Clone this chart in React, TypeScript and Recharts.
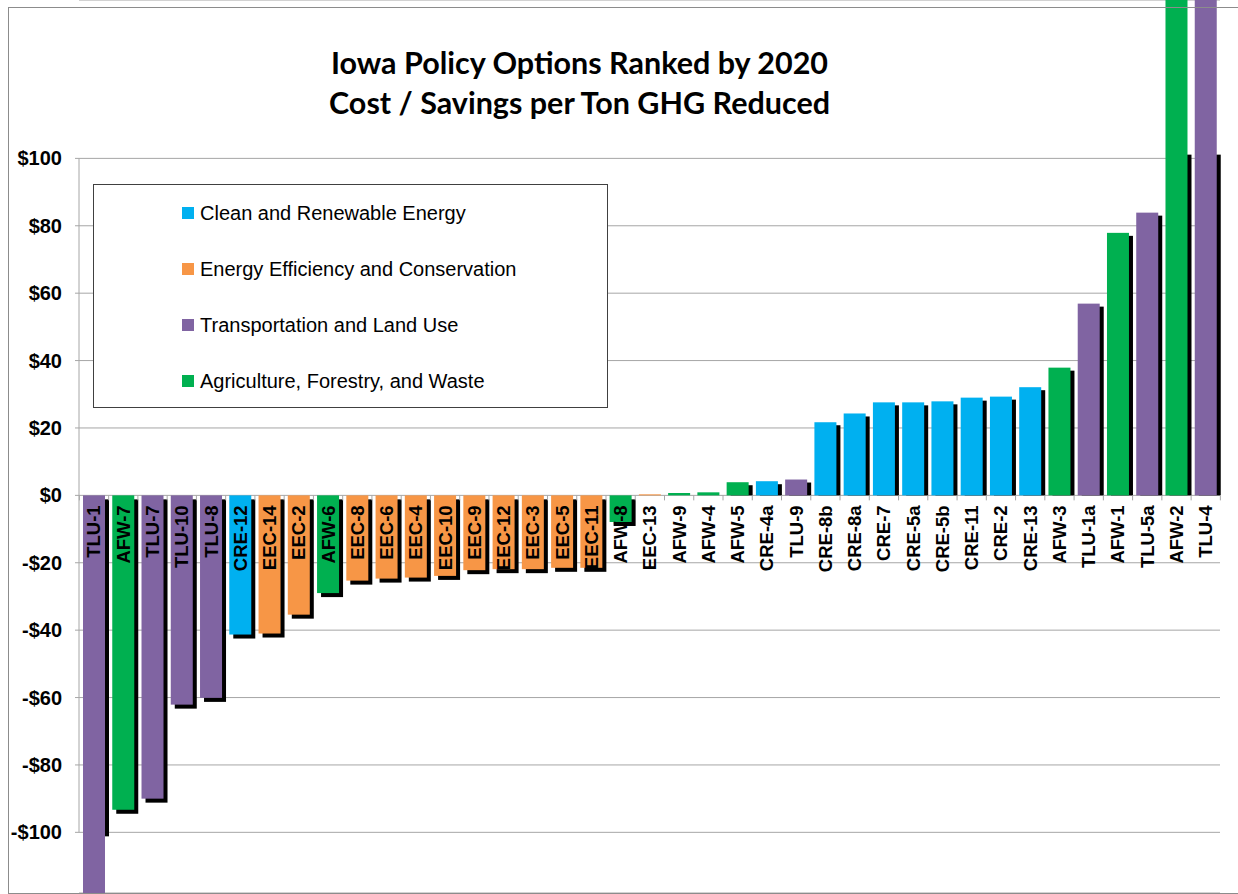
import React from 'react';
import { BarChart, Bar, XAxis, YAxis, CartesianGrid, Cell, LabelList, ReferenceLine, Legend } from 'recharts';

const policyLabels = [
  'TLU-1', 'AFW-7', 'TLU-7', 'TLU-10', 'TLU-8', 'CRE-12', 'EEC-14', 'EEC-2', 'AFW-6', 'EEC-8',
  'EEC-6', 'EEC-4', 'EEC-10', 'EEC-9', 'EEC-12', 'EEC-3', 'EEC-5', 'EEC-11', 'AFW-8', 'EEC-13',
  'AFW-9', 'AFW-4', 'AFW-5', 'CRE-4a', 'TLU-9', 'CRE-8b', 'CRE-8a', 'CRE-7', 'CRE-5a', 'CRE-5b',
  'CRE-11', 'CRE-2', 'CRE-13', 'AFW-3', 'TLU-1a', 'AFW-1', 'TLU-5a', 'AFW-2', 'TLU-4',
];
const costPerTon = [
  -125, -93.3, -90.0, -62.1, -60.1, -41.3, -41.0, -35.4, -29.0, -25.3,
  -24.7, -24.4, -23.9, -22.2, -21.9, -21.9, -21.5, -21.5, -7.9, 0.3,
  0.7, 0.9, 3.9, 4.2, 4.7, 21.7, 24.3, 27.6, 27.6, 27.9,
  29.0, 29.3, 32.1, 37.9, 56.9, 77.9, 83.9, 150, 160,
];
const groupCodes = ['CRE', 'EEC', 'TLU', 'AFW'];
const groupNames = [
  'Clean and Renewable Energy',
  'Energy Efficiency and Conservation',
  'Transportation and Land Use',
  'Agriculture, Forestry, and Waste',
];
const groupColors = ['#00B0F0', '#F79646', '#8064A2', '#00B050'];
const yTicks = [-100, -80, -60, -40, -20, 0, 20, 40, 60, 80, 100];
const yDomain = [-118, 147];
const titleLines = ['Iowa Policy Options Ranked by 2020', 'Cost / Savings per Ton GHG Reduced'];

const data = policyLabels.map((label, i) => ({
  label,
  cost: costPerTon[i],
  color: groupColors[groupCodes.indexOf(label.split('-')[0])],
}));

const W = 1238;
const H = 894;
const MARGIN = { top: 0, right: 18, bottom: 1, left: 0 };
const Y_AXIS_W = 79;
const PLOT_W = W - MARGIN.left - MARGIN.right - Y_AXIS_W;
const BAND = PLOT_W / policyLabels.length;
const ARIAL = '"Liberation Sans", Arial, Helvetica, sans-serif';
const GRID = '#a6a6a6';

const ShadowBar = (props: any) => {
  const { x, y, width, height, fill, payload } = props;
  const v = payload.cost;
  if (!v) return null;
  const top = Math.min(y, y + height);
  const bottom = Math.max(y, y + height);
  const h = bottom - top;
  const ppu = h / Math.abs(v);
  let sTop: number;
  let sBottom: number;
  if (v >= 0) {
    sBottom = bottom;
    sTop = bottom - Math.min(v, 102) * ppu + 3;
  } else {
    sTop = top + 4;
    sBottom = top + Math.min(-v, 100) * ppu + 4;
  }
  return (
    <g>
      <rect x={x + 4} y={sTop} width={width} height={Math.max(0, sBottom - sTop)} fill="#000" />
      <rect x={x} y={top} width={width} height={h} fill={fill} />
    </g>
  );
};

const renderPolicyLabel = (props: any) => {
  const vb = props.viewBox || props;
  const x = vb.x;
  const y = vb.y;
  const width = vb.width;
  const height = vb.height;
  const index = props.index;
  const v = costPerTon[index];
  const top = Math.min(y, y + height);
  const bottom = Math.max(y, y + height);
  const zeroY = v >= 0 ? bottom : top;
  const cx = x + width / 2;
  const gap = (BAND - width) / 2;
  const ty = zeroY + 10;
  return (
    <g>
      <line x1={x - gap} x2={x - gap} y1={zeroY} y2={zeroY + 5} stroke={GRID} strokeWidth={1} />
      {index === policyLabels.length - 1 && (
        <line x1={x + width + gap} x2={x + width + gap} y1={zeroY} y2={zeroY + 5} stroke={GRID} strokeWidth={1} />
      )}
      <text
        x={cx}
        y={ty}
        transform={`rotate(-90 ${cx} ${ty})`}
        textAnchor="end"
        dominantBaseline="central"
        fontFamily={ARIAL}
        fontWeight="bold"
        fontSize={18.5}
        fill="#000"
      >
        {props.value}
      </text>
    </g>
  );
};

const renderLegend = () => (
  <div
    style={{
      width: 515,
      height: 224,
      boxSizing: 'border-box',
      border: '1px solid #404040',
      background: '#fff',
      position: 'relative',
      fontFamily: ARIAL,
    }}
  >
    {groupNames.map((name, i) => (
      <div
        key={name}
        style={{
          position: 'absolute',
          left: 88,
          top: 15.7 + i * 56,
          height: 24,
          display: 'flex',
          alignItems: 'center',
          whiteSpace: 'nowrap',
        }}
      >
        <span style={{ display: 'inline-block', width: 12, height: 12, background: groupColors[i], marginRight: 6 }} />
        <span style={{ fontSize: 20, color: '#000', lineHeight: '24px' }}>{name}</span>
      </div>
    ))}
  </div>
);

const fmtDollar = (v: number) => (v < 0 ? `-$${Math.abs(v)}` : `$${v}`);

export default function App() {
  return (
    <div style={{ position: 'relative', width: W, height: H, overflow: 'hidden', background: '#fff' }}>
      <style>{`html,body{margin:0;padding:0;overflow:hidden;background:#fff}`}</style>
      <BarChart width={W} height={H} data={data} margin={MARGIN}>
        <CartesianGrid horizontal vertical={false} stroke={GRID} />
        <XAxis dataKey="label" hide />
        <YAxis
          width={Y_AXIS_W}
          domain={yDomain}
          allowDataOverflow
          ticks={yTicks}
          interval={0}
          axisLine={false}
          tickLine={{ stroke: GRID }}
          tickSize={4}
          tickMargin={13}
          tickFormatter={fmtDollar}
          tick={{ fontFamily: ARIAL, fontWeight: 'bold', fontSize: 20, fill: '#000' }}
        />
        <ReferenceLine
          position="start"
          segment={[
            { x: policyLabels[0], y: yTicks[0] },
            { x: policyLabels[0], y: yTicks[yTicks.length - 1] },
          ]}
          stroke={GRID}
          strokeWidth={1}
        />
        <Legend
          layout="vertical"
          align="center"
          verticalAlign="middle"
          content={renderLegend}
          wrapperStyle={{ left: 93, top: 184, width: 515, height: 224 }}
        />
        <Bar dataKey="cost" barSize={22} isAnimationActive={false} shape={ShadowBar}>
          {data.map((d) => (
            <Cell key={d.label} fill={d.color} />
          ))}
          <LabelList dataKey="label" content={renderPolicyLabel} />
        </Bar>
      </BarChart>
      <div
        style={{
          position: 'absolute',
          left: 0,
          top: 42,
          width: 1159,
          textAlign: 'center',
          fontFamily: 'Lato, "Open Sans", sans-serif',
          fontWeight: 700,
          fontSize: 30.5,
          lineHeight: '40px',
          color: '#000',
          pointerEvents: 'none',
        }}
      >
        {titleLines.map((t) => (
          <div key={t}>{t}</div>
        ))}
      </div>
      <div
        style={{
          position: 'absolute',
          left: 8,
          top: 7,
          width: 1240,
          height: 885,
          border: '1px solid #8c8c8c',
          pointerEvents: 'none',
        }}
      />
    </div>
  );
}
